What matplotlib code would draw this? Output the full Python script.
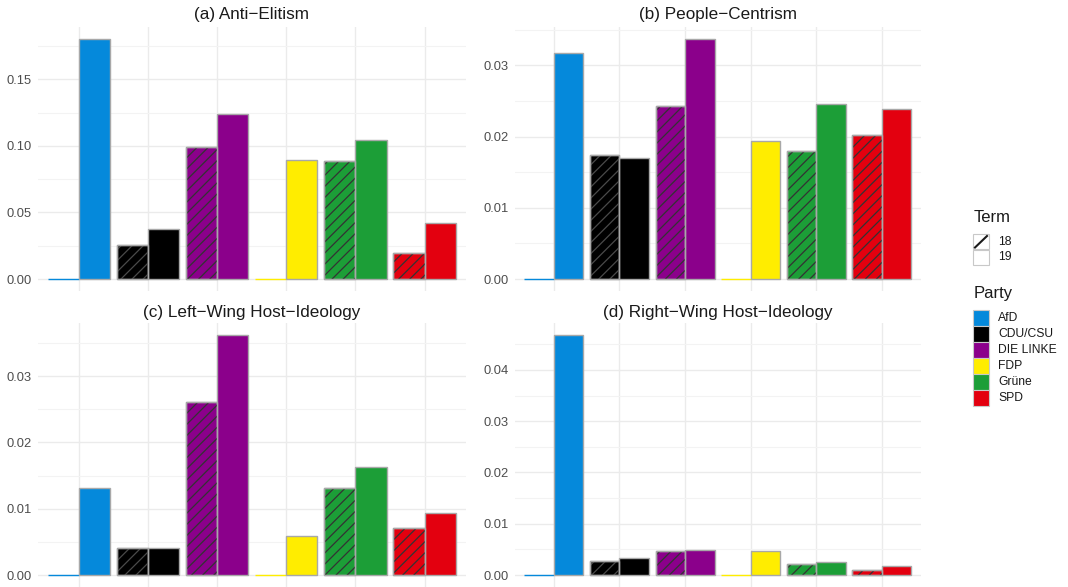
import matplotlib
matplotlib.use("Agg")
import matplotlib.pyplot as plt
from matplotlib.patches import Rectangle
import numpy as np

plt.rcParams['font.family'] = ['Liberation Sans', 'DejaVu Sans']
plt.rcParams['hatch.linewidth'] = 0.9

parties = ["AfD", "CDU/CSU", "DIE LINKE", "FDP", "Grüne", "SPD"]
party_colors = ["#0589DB", "#000000", "#8B008B", "#FFED00", "#1C9E37", "#E3000F"]
terms = ["18", "19"]

titles = ["(a) Anti\u2212Elitism", "(b) People\u2212Centrism",
          "(c) Left\u2212Wing Host\u2212Ideology", "(d) Right\u2212Wing Host\u2212Ideology"]

anti_elitism_18 = [0.0, 0.0255, 0.0993, 0.0, 0.0888, 0.0195]
anti_elitism_19 = [0.1802, 0.0378, 0.1240, 0.0890, 0.1045, 0.0418]
people_centrism_18 = [0.0, 0.01738, 0.0243, 0.0, 0.01794, 0.0202]
people_centrism_19 = [0.0317, 0.0170, 0.0337, 0.01944, 0.02458, 0.02388]
left_wing_18 = [0.0, 0.00402, 0.0261, 0.0, 0.01307, 0.00704]
left_wing_19 = [0.01312, 0.00402, 0.0362, 0.00588, 0.01628, 0.0093]
right_wing_18 = [0.0, 0.00267, 0.00475, 0.0, 0.00221, 0.00091]
right_wing_19 = [0.0468, 0.00325, 0.00488, 0.00462, 0.00247, 0.00176]

panels = [
    (anti_elitism_18, anti_elitism_19, [0.0, 0.05, 0.10, 0.15], 0.025),
    (people_centrism_18, people_centrism_19, [0.0, 0.01, 0.02, 0.03], 0.005),
    (left_wing_18, left_wing_19, [0.0, 0.01, 0.02, 0.03], 0.005),
    (right_wing_18, right_wing_19, [0.0, 0.01, 0.02, 0.03, 0.04], 0.005),
]

W, H = 1068, 587
fig = plt.figure(figsize=(W / 100, H / 100), dpi=100)

def px_rect(l, r, t, b):
    return [l / W, 1 - b / H, (r - l) / W, (b - t) / H]

boxes = [
    px_rect(37.5, 466, 27, 291),
    px_rect(514.6, 921, 27, 291),
    px_rect(37.5, 466, 323, 587),
    px_rect(514.6, 921, 323, 587),
]
title_y = [15, 15, 312, 312]

edge = "#A8A8A8"
hatch_col = "#333333"
grid_col = "#EBEBEB"
width = 0.45

for i, (v18, v19, ticks, minor) in enumerate(panels):
    ax = fig.add_axes(boxes[i])
    x = np.arange(1, len(parties) + 1)
    vmax = max(max(v18), max(v19))
    ax.set_xlim(0.4, 6.6)
    ax.set_ylim(-0.05 * vmax, 1.05 * vmax)
    ax.set_yticks(ticks)
    ax.set_yticks(np.arange(minor, 1.05 * vmax, minor * 2), minor=True)
    ax.set_xticks(x)
    ax.grid(True, which='major', color=grid_col, linewidth=1.0, zorder=0)
    ax.grid(True, which='minor', axis='y', color="#F3F3F3", linewidth=0.8, zorder=0)
    ax.set_axisbelow(True)
    for s in ax.spines.values():
        s.set_visible(False)
    ax.tick_params(axis='both', which='both', length=0)
    ax.set_xticklabels([])
    ax.set_yticklabels([f"{t:.2f}" for t in ticks], fontsize=9.3, color="#4D4D4D")
    ax.tick_params(axis='y', pad=4)
    for j in range(len(parties)):
        c = party_colors[j]
        ec = c if v18[j] == 0 else edge
        ax.bar(x[j] - width / 2, v18[j], width=width, color=c, edgecolor=ec,
               linewidth=1.0, zorder=2)
        if v18[j] > 0:
            hc = "#4A4A4A" if c == "#000000" else hatch_col
            ax.bar(x[j] - width / 2, v18[j], width=width, color='none',
                   edgecolor=hc, linewidth=0, hatch='///', zorder=3)
            ax.bar(x[j] - width / 2, v18[j], width=width, color='none',
                   edgecolor=edge, linewidth=1.0, zorder=4)
        ax.bar(x[j] + width / 2, v19[j], width=width, color=c, edgecolor=edge,
               linewidth=1.0, zorder=2)
    fig.text((boxes[i][0] + boxes[i][2] / 2), 1 - title_y[i] / H, titles[i],
             ha='center', va='center', fontsize=12.3, color="#1A1A1A")

def fx(xp):
    return xp / W

def fy(yp):
    return 1 - yp / H

fig.text(fx(974), fy(217), "Term", fontsize=12, va='center', ha='left', color="#1A1A1A")
key_l, key_w, key_h = 973, 16, 15.5
term_key_y = [234, 249.5]
for k, lab in enumerate(terms):
    r = Rectangle((fx(key_l), fy(term_key_y[k] + key_h)), key_w / W, key_h / H,
                  transform=fig.transFigure, facecolor='white', edgecolor="#C8C8C8",
                  linewidth=0.8)
    fig.add_artist(r)
    if lab == "18":
        fig.add_artist(plt.Line2D([fx(key_l + 2), fx(key_l + key_w - 2)],
                                  [fy(term_key_y[k] + key_h - 2), fy(term_key_y[k] + 2)],
                                  transform=fig.transFigure, color="#1A1A1A", linewidth=1.5))
    fig.text(fx(998), fy(term_key_y[k] + key_h / 2), lab, fontsize=8.7, va='center',
             ha='left', color="#1A1A1A")

fig.text(fx(974), fy(294), "Party", fontsize=12, va='center', ha='left', color="#1A1A1A")
party_key_top = 310
for k, (lab, c) in enumerate(zip(parties, party_colors)):
    y0 = party_key_top + k * 16
    r = Rectangle((fx(key_l), fy(y0 + 16)), key_w / W, 16 / H,
                  transform=fig.transFigure, facecolor=c, edgecolor="#C8C8C8",
                  linewidth=0.8)
    fig.add_artist(r)
    fig.text(fx(998), fy(y0 + 8), lab, fontsize=8.7, va='center', ha='left', color="#1A1A1A")

fig.savefig("out.png", dpi=100)
